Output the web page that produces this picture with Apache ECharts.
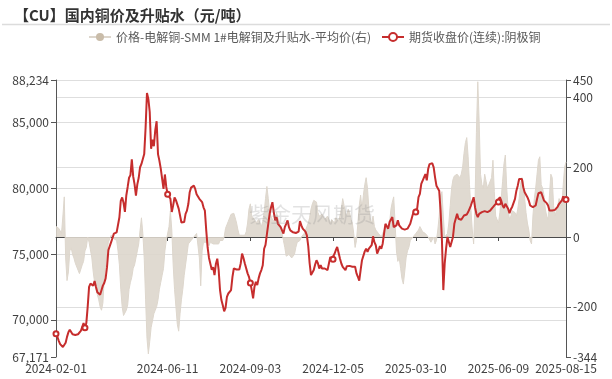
<!DOCTYPE html>
<html>
<head>
<meta charset="utf-8">
<script src="https://cdn.jsdelivr.net/npm/echarts@6/dist/echarts.min.js"></script>
<style>
html,body{margin:0;padding:0;background:#fff;}
#main{width:612px;height:379px;}
</style>
</head>
<body>
<div id="main"></div>
<script>
// ---- data ----
const titleText = '【CU】国内铜价及升贴水（元/吨）';
const seriesNames = ['价格-电解铜-SMM 1#电解铜及升贴水-平均价(右)', '期货收盘价(连续):阴极铜'];
const startDate = '2024-02-01';
const endDate = '2025-08-15';
const holidays = ['2024-02-09','2024-02-12','2024-02-13','2024-02-14','2024-02-15','2024-02-16',
  '2024-04-04','2024-04-05','2024-05-01','2024-05-02','2024-05-03','2024-06-10',
  '2024-09-16','2024-09-17','2024-10-01','2024-10-02','2024-10-03','2024-10-04','2024-10-07',
  '2025-01-01','2025-01-28','2025-01-29','2025-01-30','2025-01-31','2025-02-03','2025-02-04',
  '2025-04-04','2025-05-01','2025-05-02','2025-05-05','2025-06-02'];
const labelDates = ['2024-02-01','2024-06-11','2024-09-03','2024-12-05','2025-03-10','2025-06-09','2025-08-15'];
const symbolDates = ['2024-02-01','2024-03-11','2024-06-11','2024-09-03','2024-12-05','2025-03-10','2025-06-09','2025-08-15'];
const leftTicks = [67171, 70000, 75000, 80000, 85000, 88234];
const rightTicks = [-344, -200, 0, 200, 400, 450];

// 期货收盘价(连续):阴极铜
const futuresClose = [
68940,68700,68400,68150,68050,67930,68000,68250,68700,69050,
69250,69100,68900,68800,68850,68950,68900,69050,69150,69300,
69750,69400,69750,71000,72500,72750,72700,72600,72950,72500,
72100,72000,71900,72250,72600,72800,73150,74000,75300,75600,
75900,76050,76550,76600,76650,76800,77800,79050,79300,78900,
78200,79450,80100,80800,81000,82200,80900,80300,79450,80300,
80800,81600,81850,81800,82600,84600,87250,86800,85800,83000,
83700,83200,84400,85100,82600,82100,81500,81600,79950,81050,
80100,79550,79450,79200,78200,78700,79300,79100,79050,78450,
78300,77400,77450,77430,78060,78300,78800,79700,80050,80100,
80200,79950,79550,79700,79200,79300,78950,78550,78300,76800,
75500,74700,74780,73800,74000,73400,74250,74650,73800,72250,
71500,71100,70650,70900,71750,72000,72050,72250,73250,73900,
73900,73830,73900,73830,74280,75040,74700,74280,74150,73530,
73270,72800,72260,71630,72520,72890,72640,73150,73530,73780,
74150,75400,75700,76500,77300,78060,78560,78940,78190,77560,
77810,77300,77430,77050,77180,76550,77050,77300,77560,77050,
76800,76750,76650,76600,76600,76670,76700,77500,77180,76930,
77000,76700,76420,75600,74300,73400,73270,73780,74200,74530,
74300,73900,74150,73900,74030,73900,74030,73780,74280,74780,
74600,74600,75000,75290,75540,75100,74660,74280,74030,73900,
73780,74080,74100,74100,74100,74030,74150,74030,73530,73270,
72970,73780,74530,74660,75200,75410,75160,75410,75540,75670,
76350,75900,75670,75040,75290,75600,75410,75790,76550,77300,
77180,76930,77430,77300,77810,77050,76930,77180,77560,77180,
77050,76930,77000,76860,76800,76930,77000,77300,77680,78060,
78310,78200,78440,79320,79570,80330,80330,80830,81080,80600,
81460,81840,81970,81900,81590,80830,80200,80330,79820,78310,
76040,72260,74280,75410,76300,75920,75540,75920,76300,77300,
77430,78060,77680,77810,77610,77500,77930,78060,78010,78190,
78440,78690,78820,79320,78560,78060,77810,78060,77930,78190,
78310,78260,78360,78190,78060,78310,78310,78560,78690,78820,
79020,78960,79320,79070,78690,78510,78820,78690,78440,78110,
78400,78600,78750,79190,79820,80200,80710,80830,80710,80080,
79700,79700,79320,79070,78690,78690,78560,78440,78690,79190,
79620,79700,79700,79570,79070,78940,78870,78690,78310,78440,
78310,78440,78360,78510,78610,78820,78940,79070,79380,79190,
79150];

// 价格-电解铜-SMM 1#电解铜及升贴水-平均价(右)
const spotPremium = [
30,30,25,20,10,60,115,-60,-125,-100,
-40,-30,-50,-60,-75,-80,-95,-105,-110,-80,
-70,-40,-30,0,-15,-20,-60,-100,-130,-150,
-165,-180,-200,-210,-190,-120,-80,-40,-15,-10,
5,0,-5,0,-10,-40,-80,-150,-200,-225,
-220,-210,-195,-150,-130,-115,-90,-80,-60,-40,
-20,20,55,10,-60,-180,-290,-335,-300,-260,
-240,-220,-210,-200,-180,-150,-130,-110,-90,-40,
-10,-5,30,75,20,-80,-150,-200,-250,-270,
-220,-180,-150,-110,-105,-50,-20,-15,-10,-5,
0,5,10,15,-60,-140,-40,-15,-20,-15,
-20,-25,-15,-20,-20,-15,-20,-15,-20,-10,
-15,-10,0,25,35,45,55,65,70,68,
55,40,20,5,0,5,10,5,15,40,
80,95,60,55,50,40,35,50,40,30,
45,70,110,145,110,70,60,50,55,45,
70,55,40,30,10,-10,-30,-55,-60,-50,
-45,-60,-65,-50,-30,-15,-20,-10,0,-5,
10,20,30,40,55,80,95,105,100,100,
70,60,55,65,60,50,45,60,55,40,
50,45,40,55,50,45,60,80,110,90,
70,60,80,70,50,40,10,-30,-10,40,
90,120,80,120,150,170,140,80,50,40,
60,30,20,15,10,5,0,10,20,25,
30,20,40,80,100,115,40,-40,-70,-60,
-90,-120,-135,-100,-60,-40,-30,-10,-5,0,
5,10,15,20,30,25,15,20,10,5,
0,-5,-15,-10,0,-20,-10,20,60,120,
130,60,0,-5,10,40,90,140,165,175,
172,180,175,170,180,200,240,270,285,230,
150,80,20,-20,100,300,445,330,180,150,
140,180,160,140,150,145,170,220,130,60,
50,40,70,110,160,210,235,140,80,50,
60,75,80,70,60,80,110,150,170,160,
110,70,40,20,-10,-20,60,110,140,180,
220,230,150,140,120,80,60,50,120,180,
170,90,60,55,90,110,100,90,150,200,
215];

// ---- trading-day categories ----
function buildDates(s, e, hol) {
  const out = [];
  const hs = new Set(hol);
  let d = new Date(s + 'T00:00:00Z');
  const end = new Date(e + 'T00:00:00Z');
  while (d <= end) {
    const wd = d.getUTCDay();
    const str = d.toISOString().slice(0, 10);
    if (wd !== 0 && wd !== 6 && !hs.has(str)) out.push(str);
    d = new Date(d.getTime() + 86400000);
  }
  return out;
}
const dates = buildDates(startDate, endDate, holidays);
const labelSet = new Set(labelDates);
const symbolSet = new Set(symbolDates);
const showLabel = (idx, val) => labelSet.has(val);

const chart = echarts.init(document.getElementById('main'), null, {renderer: 'canvas'});
const font = '"Noto Sans CJK SC", "Noto Sans", sans-serif';
chart.setOption({
  animation: false,
  textStyle: {fontFamily: font},
  title: {
    text: titleText, left: 9, top: 3,
    textStyle: {fontSize: 15, fontWeight: 'bold', color: '#333', fontFamily: font}
  },
  legend: {
    top: 26, left: 83, itemWidth: 22, itemHeight: 10, itemGap: 10,
    textStyle: {fontSize: 12, color: '#595959', fontFamily: font},
    data: seriesNames
  },
  graphic: [
    {type: 'line', shape: {x1: 2, y1: 24.5, x2: 610, y2: 24.5}, style: {stroke: '#dcdcdc', lineWidth: 1.5}, silent: true},
    {type: 'text', left: 249, top: 204, silent: true, z: 10,
     style: {text: '紫金天风期货', font: '21px "Noto Sans CJK SC"', fill: 'rgba(140,140,140,0.25)'}}
  ],
  grid: {left: 56, right: 46, top: 80, bottom: 22},
  xAxis: [
    {
      type: 'category', data: dates, boundaryGap: false,
      axisLine: {show: true, onZero: true, onZeroAxisIndex: 1, lineStyle: {color: '#4a4a4a', width: 1}},
      axisTick: {show: true, interval: showLabel, length: 4, lineStyle: {color: '#4a4a4a'}},
      axisLabel: {show: false},
      splitLine: {show: false}
    },
    {
      type: 'category', data: dates, boundaryGap: false, position: 'bottom',
      axisLine: {show: false, onZero: false},
      axisTick: {show: false},
      axisLabel: {interval: showLabel, fontSize: 12, color: '#404040', margin: 5, fontFamily: font},
      splitLine: {show: false}
    }
  ],
  yAxis: [
    {
      type: 'value', position: 'left', min: 67171, max: 88234,
      axisLine: {show: true, lineStyle: {color: '#555'}},
      axisTick: {show: true, length: 5, customValues: leftTicks, lineStyle: {color: '#555'}},
      axisLabel: {customValues: leftTicks, fontSize: 12, color: '#404040', margin: 7, fontFamily: font},
      splitLine: {show: true, showMinLine: false, lineStyle: {color: '#dedede', width: 1}}
    },
    {
      type: 'value', position: 'right', min: -344, max: 450,
      axisLine: {show: true, lineStyle: {color: '#555'}},
      axisTick: {show: true, length: 5, customValues: rightTicks, lineStyle: {color: '#555'}},
      axisLabel: {customValues: rightTicks, fontSize: 12, color: '#404040', margin: 7, fontFamily: font},
      splitLine: {show: true, showMinLine: false, lineStyle: {color: '#dedede', width: 1}}
    }
  ],
  series: [
    {
      name: seriesNames[0], type: 'line', xAxisIndex: 0, yAxisIndex: 1,
      data: spotPremium, symbol: 'circle', showSymbol: false, symbolSize: 8,
      lineStyle: {width: 1, color: '#ddd6cc'},
      itemStyle: {color: '#c9bca9'},
      areaStyle: {color: '#ddd6cc', opacity: 0.9},
      z: 1
    },
    {
      name: seriesNames[1], type: 'line', xAxisIndex: 0, yAxisIndex: 0,
      data: futuresClose, symbol: 'emptyCircle', showSymbol: true, showAllSymbol: true,
      symbolSize: (v, p) => symbolSet.has(dates[p.dataIndex]) ? 5 : 0,
      lineStyle: {width: 2, color: '#c62d2d'},
      itemStyle: {color: '#c62d2d', borderWidth: 1},
      z: 3
    }
  ]
});
</script>
</body>
</html>
